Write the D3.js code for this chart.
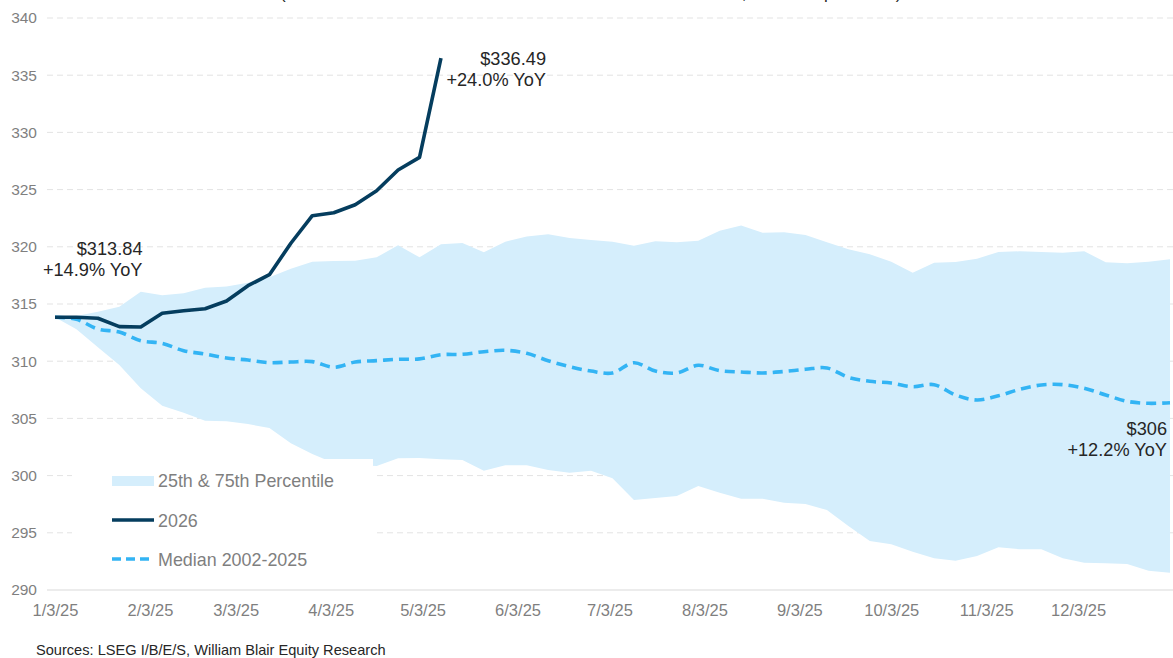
<!DOCTYPE html>
<html>
<head>
<meta charset="utf-8">
<script src="https://cdn.jsdelivr.net/npm/d3@7"></script>
<style>
  html, body { margin: 0; padding: 0; background: #ffffff; }
  svg { display: block; font-family: "Liberation Sans", Arial, sans-serif; }
</style>
</head>
<body>
<svg id="chart" width="1173" height="658"></svg>
<script>
// Weekly observation dates
const weekDates = [
  "2025-01-03","2025-01-10","2025-01-17","2025-01-24","2025-01-31",
  "2025-02-07","2025-02-14","2025-02-21","2025-02-28",
  "2025-03-07","2025-03-14","2025-03-21","2025-03-28",
  "2025-04-04","2025-04-11","2025-04-18","2025-04-25",
  "2025-05-02","2025-05-09","2025-05-16","2025-05-23","2025-05-30",
  "2025-06-06","2025-06-13","2025-06-20","2025-06-27",
  "2025-07-04","2025-07-11","2025-07-18","2025-07-25",
  "2025-08-01","2025-08-08","2025-08-15","2025-08-22","2025-08-29",
  "2025-09-05","2025-09-12","2025-09-19","2025-09-26",
  "2025-10-03","2025-10-10","2025-10-17","2025-10-24","2025-10-31",
  "2025-11-07","2025-11-14","2025-11-21","2025-11-28",
  "2025-12-05","2025-12-12","2025-12-19","2025-12-26",
  "2026-01-02"
];

// 2026 EPS estimate (weeks reported so far)
const eps2026 = [
  313.84, 313.84, 313.75, 313.02, 312.99, 314.19, 314.41, 314.59, 315.26,
  316.60, 317.56, 320.31, 322.72, 322.98, 323.68, 324.90, 326.71, 327.82, 336.49
];

// Median path of estimates, 2002-2025
const median = [
  313.84, 313.66, 312.81, 312.55, 311.79, 311.56, 310.92, 310.63, 310.28, 310.10,
  309.87, 309.93, 309.96, 309.47, 309.93, 310.05, 310.17, 310.20, 310.57, 310.60,
  310.83, 310.95, 310.69, 310.04, 309.52, 309.14, 308.97, 309.87, 309.14, 308.97,
  309.64, 309.17, 309.06, 308.97, 309.10, 309.29, 309.41, 308.59, 308.24, 308.09,
  307.77, 307.95, 307.05, 306.61, 306.98, 307.54, 307.92, 307.95, 307.63, 307.05,
  306.49, 306.32, 306.37
];

// 75th percentile
const pct75 = [
  313.84, 313.95, 314.33, 314.77, 316.08, 315.76, 315.93, 316.43, 316.52, 316.86,
  317.33, 318.09, 318.70, 318.76, 318.79, 319.08, 320.13, 319.08, 320.22, 320.33,
  319.52, 320.45, 320.89, 321.09, 320.77, 320.59, 320.45, 320.10, 320.48, 320.39,
  320.53, 321.41, 321.87, 321.23, 321.27, 321.03, 320.39, 319.78, 319.34, 318.70,
  317.74, 318.61, 318.67, 318.96, 319.55, 319.61, 319.55, 319.48, 319.61, 318.65,
  318.56, 318.70, 318.91
];

// 25th percentile
const pct25 = [
  313.84, 312.79, 311.21, 309.67, 307.63, 306.11, 305.50, 304.80, 304.74, 304.51,
  304.16, 302.82, 301.89, 301.10, 300.90, 300.85, 301.51, 301.54, 301.42, 301.36,
  300.43, 300.90, 300.90, 300.49, 300.26, 300.43, 299.76, 297.87, 298.04, 298.22,
  299.09, 298.51, 297.98, 297.98, 297.63, 297.52, 296.99, 295.59, 294.28, 293.99,
  293.35, 292.77, 292.56, 292.97, 293.73, 293.56, 293.56, 292.77, 292.39, 292.33,
  292.27, 291.69, 291.51
];

const yTicks = [290, 295, 300, 305, 310, 315, 320, 325, 330, 335, 340];
const xTickDates = ["2025-01-03","2025-02-03","2025-03-03","2025-04-03","2025-05-03","2025-06-03",
                    "2025-07-03","2025-08-03","2025-09-03","2025-10-03","2025-11-03","2025-12-03"];
const xTickLabels = ["1/3/25","2/3/25","3/3/25","4/3/25","5/3/25","6/3/25",
                     "7/3/25","8/3/25","9/3/25","10/3/25","11/3/25","12/3/25"];

const legendLabels = ["25th & 75th Percentile", "2026", "Median 2002-2025"];
const titleText = "(S&P 500 EPS Estimate Revisions Since the Start of the Year, in dollars per share)";
const sourceText = "Sources: LSEG I/B/E/S, William Blair Equity Research";

const COLORS = { band: "#d5eefc", line2026: "#053d5e", median: "#33b4f4",
                 grid: "#e3e3e3", axis: "#d9d9d9", tick: "#7f7f7f", text: "#262626" };

const parse = d3.utcParse("%Y-%m-%d");
const dates = weekDates.map(parse);

const svg = d3.select("#chart");
const plotLeft = 47, plotRight = 1173;

const x = d3.scaleUtc()
  .domain([parse("2025-01-03"), parse("2026-01-02")])
  .range([55, 1170]);
const y = d3.scaleLinear().domain([290, 340]).range([590, 18]);

// Title line (sits above the visible area)
svg.append("text")
  .attr("x", 280).attr("y", -1)
  .attr("font-size", 17).attr("fill", COLORS.text)
  .text(titleText);

// Horizontal gridlines
svg.append("g").selectAll("line")
  .data(yTicks.filter(v => v !== 290))
  .join("line")
  .attr("x1", plotLeft).attr("x2", plotRight)
  .attr("y1", d => y(d)).attr("y2", d => y(d))
  .attr("stroke", COLORS.grid).attr("stroke-width", 1)
  .attr("stroke-dasharray", "6,4");

// Percentile band
const bandData = dates.map((d, i) => ({ d, lo: pct25[i], hi: pct75[i] }));
svg.append("path")
  .datum(bandData)
  .attr("fill", COLORS.band)
  .attr("d", d3.area().x(p => x(p.d)).y0(p => y(p.lo)).y1(p => y(p.hi)));

// Category axis baseline
svg.append("line")
  .attr("x1", plotLeft).attr("x2", plotRight)
  .attr("y1", y(290)).attr("y2", y(290))
  .attr("stroke", COLORS.axis).attr("stroke-width", 1.2);

// Y axis labels
const yAxis = svg.append("g")
  .attr("transform", "translate(40,0)")
  .call(d3.axisLeft(y).tickValues(yTicks).tickSize(0).tickPadding(3));
yAxis.select(".domain").remove();
yAxis.selectAll("text")
  .attr("font-size", 15.5).attr("fill", COLORS.tick)
  .attr("font-family", "Liberation Sans, Arial, sans-serif");

// X axis labels
const xAxis = svg.append("g")
  .attr("transform", `translate(0,${y(290)})`)
  .call(d3.axisBottom(x)
    .tickValues(xTickDates.map(parse))
    .tickFormat((d, i) => xTickLabels[i])
    .tickSize(0).tickPadding(14));
xAxis.select(".domain").remove();
xAxis.selectAll("text")
  .attr("font-size", 16.5).attr("fill", COLORS.tick)
  .attr("font-family", "Liberation Sans, Arial, sans-serif");

// Median line
const medianData = dates.map((d, i) => ({ d, v: median[i] }));
svg.append("path")
  .datum(medianData)
  .attr("fill", "none")
  .attr("stroke", COLORS.median).attr("stroke-width", 3.6)
  .attr("stroke-dasharray", "10,6")
  .attr("d", d3.line().x(p => x(p.d)).y(p => y(p.v)).curve(d3.curveCatmullRom.alpha(0.5)));

// 2026 line
const eps2026Data = eps2026.map((v, i) => ({ d: dates[i], v }));
svg.append("path")
  .datum(eps2026Data)
  .attr("fill", "none")
  .attr("stroke", COLORS.line2026).attr("stroke-width", 3.6)
  .attr("stroke-linejoin", "round")
  .attr("d", d3.line().x(p => x(p.d)).y(p => y(p.v)));

// Legend
const legend = svg.append("g");
legend.append("rect")
  .attr("x", 72).attr("y", 459).attr("width", 301).attr("height", 118)
  .attr("fill", "#ffffff");
legend.append("rect")
  .attr("x", 112).attr("y", 476).attr("width", 42).attr("height", 10)
  .attr("fill", COLORS.band);
legend.append("line")
  .attr("x1", 112).attr("x2", 154).attr("y1", 520).attr("y2", 520)
  .attr("stroke", COLORS.line2026).attr("stroke-width", 3.6);
legend.append("line")
  .attr("x1", 112).attr("x2", 154).attr("y1", 559).attr("y2", 559)
  .attr("stroke", COLORS.median).attr("stroke-width", 3.6)
  .attr("stroke-dasharray", "9,5");
legend.selectAll("text.lg")
  .data(legendLabels)
  .join("text")
  .attr("class", "lg")
  .attr("x", 158)
  .attr("y", (d, i) => [487, 526.5, 565.5][i])
  .attr("font-size", 17.9).attr("fill", COLORS.tick)
  .text(d => d);

// Value annotations
const fmt2 = d3.format(".2f"), fmt0 = d3.format(".0f");
const notes = [
  { xr: 142.5, y1: 254.5, lines: ["$" + fmt2(eps2026[0]), "+14.9% YoY"] },
  { xr: 546, y1: 64.5, lines: ["$" + fmt2(eps2026[eps2026.length - 1]), "+24.0% YoY"] },
  { xr: 1167, y1: 434.5, lines: ["$" + fmt0(median[median.length - 1]), "+12.2% YoY"] }
];
notes.forEach(n => {
  n.lines.forEach((t, i) => {
    svg.append("text")
      .attr("x", n.xr).attr("y", n.y1 + i * 21)
      .attr("text-anchor", "end")
      .attr("font-size", 18.2).attr("fill", COLORS.text)
      .text(t);
  });
});

// Source line
svg.append("text")
  .attr("x", 36).attr("y", 655)
  .attr("font-size", 14.6).attr("fill", COLORS.text)
  .text(sourceText);
</script>
</body>
</html>
